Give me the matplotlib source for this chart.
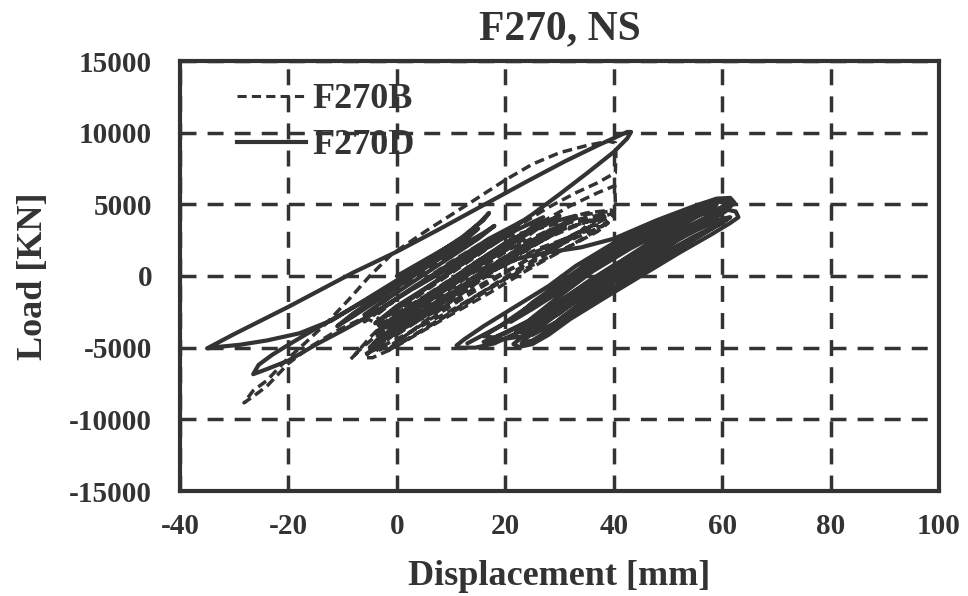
import numpy as np
import matplotlib.pyplot as plt
from matplotlib.lines import Line2D

# =========================
# Data (displacement mm, load kN)
# =========================

f270b_pts = [
    (0, 0), (6, 1200), (12, 2300), (9, 1300), (3, -200), (-3, -2000), (-6, -3200),
    (-3, -2400), (3, -800), (10, 1000), (17, 2600), (22, 3500), (19, 2500), (12, 700),
    (5, -1100), (-1, -2800), (-5, -4300), (-7.5, -5400), (-8.5, -5800),
    (-7, -5200), (-3, -3900), (2, -2500), (8, -800), (15, 1000), (22, 2600), (29, 3800),
    (35, 4400), (39.5, 4600),
    (40, 4200), (37, 3200), (31, 1900), (24, 400), (17, -1200), (10, -2700), (4, -4000),
    (-1, -5100), (-4.5, -5700), (-6, -5700),
    (-4, -4900), (1, -3400), (7, -1700), (14, 200), (21, 1900), (28, 3200), (34, 4000), (38, 4300),
    (35, 3300), (29, 2000), (22, 400), (15, -1300), (8, -3000), (2, -4400), (-2, -5300),
    (0, -4600), (5, -3200), (11, -1500), (18, 400), (25, 2100), (31, 3300), (36, 3900),
    (33, 2800), (27, 1400), (20, -200), (13, -1900), (6, -3500), (1, -4600),
    (-2, -3600), (-6, -2900), (-11, -3800), (-16, -4950), (-20, -6100), (-24, -7700),
    (-26.5, -8400), (-28.2, -8850),
    (-26.5, -8000), (-24, -7300), (-20.5, -5900), (-17, -4700), (-13, -3300), (-9, -1700),
    (-5, 0), (-1, 1500), (6, 3300), (13.5, 5100), (20, 6700), (25, 7800), (30, 8600),
    (35, 9100), (39, 9400), (40.3, 9300),
    (40.4, 8500), (40.3, 7200), (37, 6500), (33, 5800), (28, 4800), (22, 3400), (16, 1900),
    (10, 400), (4, -1200), (-1, -2600), (-4, -3600),
    (0, -2800), (6, -1200), (12, 300), (19, 2000), (26, 3600), (32, 4900), (37, 5800),
    (40.2, 6300), (40.3, 5200), (40, 4300), (37, 3700), (32, 2800),
    (26, 1600), (19, 0), (12, -1600), (5, -3300), (-1, -4800), (-4, -5300),
    (-1, -4200), (5, -2600), (12, -800), (19, 1100), (26, 2700), (31, 3500),
    (27, 2500), (20, 900), (13, -900), (6, -2600), (0, -4100),
    (3, -3100), (9, -1500), (16, 400), (23, 2000), (28, 3000),
    (24, 1900), (17, 300), (10, -1300), (4, -2900),
    (-6, -5500), (0, -4400), (10, -2400), (20, -200), (30, 1700), (37, 3100), (39, 3700),
    (36, 3500), (30, 2400), (20, 800), (10, -1300), (0, -3400), (-4, -4400),
    (0, -2600), (10, -300), (20, 1800), (30, 3200), (38, 4100), (40, 4400),
    (37, 4000), (30, 3700), (20, 2700), (10, 700), (0, -1600), (-4, -2800),
    (0, -3900), (8, -2300), (16, -500), (24, 1100), (32, 2500), (38, 3500),
    (34, 3000), (26, 1900), (18, 400), (10, -1200), (2, -3100), (-3, -4700), (-5, -5200),
    (-2, -4300), (6, -2100), (14, -100), (22, 1800), (29, 3400), (35, 4300), (39, 4500),
    (35, 3800), (28, 2700), (21, 1300), (14, -300), (7, -2000), (1, -3600),
    (6, -1500), (13, 600), (20, 2300), (26, 3300), (22, 2200), (15, 700), (8, -900),
]

f270d_pts = [
    (0, 0), (6, 1300), (12, 2600), (15, 3300), (12, 2300), (5, 500), (-2, -1300),
    (-8, -2800), (-11, -3500), (-8, -2600), (-1, -800), (6, 1000), (12, 2600),
    (15.5, 3800), (17, 4400), (16, 3900), (12, 2700), (6, 1200), (0, -300), (-6, -1700),
    (-12, -3100), (-18, -4000), (-24, -4500), (-29, -4800), (-33, -4950), (-35, -5050),
    (-33.5, -4750), (-30, -4050), (-25, -3100), (-20, -2150), (-14, -950), (-8, 250),
    (0, 1700), (8, 3300), (16, 4950), (24, 6600), (31, 8000), (37, 9100), (40.5, 9700),
    (42.5, 10050), (43.2, 10050),
    (42.5, 9600), (40, 8650), (35, 7150), (30, 5700), (25, 4300), (19.5, 2900), (14, 1550),
    (8, 200), (2, -1100), (-4, -2550), (-10, -3800), (-15, -4800), (-20, -5900),
    (-24, -6500), (-26.5, -6850),
    (-25.5, -6200), (-23, -5500), (-20, -4800), (-16, -3900), (-9, -2400), (-2, -900),
    (5, 600), (11, 1900), (16, 3000), (18, 3500), (15, 2600), (9, 1100), (3, -400),
    (-3, -1900), (-6, -2700),
    (-3, -2300), (3, -800), (10, 900), (17, 2600), (23, 3800), (20, 2800), (13, 1100),
    (6, -700), (0, -2300), (-4, -3300), (0, -2100), (8, -200), (15, 1600), (22, 3200),
    (27, 4100), (24, 3100), (17, 1400), (10, -400), (3, -2200), (0, -3100),
    (-2, -3600), (5, -1900), (12, -100), (19, 1700), (26, 3400), (30, 4200),
    (27, 3700), (20, 2300), (13, 500), (6, -1300), (-1, -3000), (-4, -4000),
    (0, -3000), (7, -1100), (14, 800), (21, 2500), (28, 3700), (33, 4200),
    (29, 3200), (22, 1600), (15, -200), (8, -2000), (2, -3500),
    (-3, -4200), (-5, -5000), (-3, -4300), (2, -2800), (8, -1200), (14, 300), (20, 1000),
    (27, 1600), (34, 2000),
    (40, 2600), (48, 3900), (55, 4900), (59, 5400), (61.5, 5450), (62.3, 5100),
    (60, 4400), (55, 3300), (48, 1900), (40, 300), (33, -1300), (27, -2800), (22, -4000),
    (18, -4700), (14.5, -5000), (11.5, -5000), (11, -4850),
    (12.5, -4400), (16, -3500), (22, -2100), (28, -700), (33, 700), (40, 2300), (48, 3700),
    (55, 4700), (59, 5200), (61, 5100),
    (58, 4200), (52, 2900), (45, 1400), (38, -200), (31, -1900), (26, -3300), (23, -4300),
    (21.5, -4750), (22.5, -4950), (25, -4750), (28, -4100), (32, -3000), (38, -1600),
    (45, 0), (52, 1600), (58, 2900), (61.5, 3700), (63, 4100), (62.5, 4500), (60, 4700),
    (56, 4300), (50, 3300), (43, 1900), (36, 300), (30, -1400), (25, -2900), (22, -3900),
    (24, -3900), (30, -2500), (37, -800), (44, 900), (51, 2500), (57, 3700), (61, 4600),
    (61.8, 5100), (60, 5300), (56, 4900), (50, 3900), (43, 2500), (36, 900), (30, -600),
    (24, -2200), (19, -3500), (16, -4200),
    (18, -4300), (24, -3200), (31, -1600), (38, 0), (45, 1600), (52, 3100), (57, 4100),
    (60, 4600), (58, 4000), (53, 2900), (46, 1300), (39, -300), (32, -2000), (27, -3400),
    (24, -4300), (23, -4700),
    (25, -4500), (31, -3100), (38, -1400), (45, 300), (52, 1900), (58, 3300), (61, 4000),
    (59, 3500), (54, 2400), (47, 800), (40, -800), (33, -2500), (28, -3700),
    (30, -3000), (37, -1000), (44, 700), (51, 2300), (56, 3600), (59, 4300), (56, 3800),
    (50, 2600), (43, 1100), (36, -600), (30, -2200), (26, -3300),
    (28, -2600), (35, -700), (42, 1200), (49, 2900), (55, 4200), (58.5, 4800), (57, 4500),
    (52, 3400), (45, 1800), (38, 200), (31, -1500), (25, -3000), (20, -4000), (16, -4600),
    (25, -4100), (30, -3100), (35, -1700), (40, -450), (45, 600), (50, 1750), (55, 2800),
    (60, 3700), (61.5, 4100), (60, 4000), (55, 3150), (50, 2150), (45, 1100), (40, 100),
    (35, -1200), (30, -2600), (25, -3600), (23, -3700),
    (25, -3000), (30, -1800), (35, -450), (40, 750), (45, 1750), (50, 2750), (55, 3650),
    (60, 4400), (61, 4700), (60, 4800), (55, 4150), (50, 3300), (45, 2400), (40, 1450),
    (35, 300), (30, -1100), (25, -2300), (21, -3200),
    (25, -1850), (30, -500), (35, 850), (40, 2000), (45, 2900), (50, 3750), (55, 4500),
    (59, 5000), (56, 4500), (50, 3500), (45, 2600), (40, 1700), (35, 600), (30, -800),
    (25, -2100), (20, -3300), (15, -4300), (13, -4700),
]

x_ticks = [-40, -20, 0, 20, 40, 60, 80, 100]
y_ticks = [-15000, -10000, -5000, 0, 5000, 10000, 15000]

# =========================
# Plot
# =========================

ink = '#333333'
plt.rcParams['font.family'] = ['Liberation Serif', 'DejaVu Serif']
plt.rcParams['font.weight'] = 'bold'
plt.rcParams['axes.titleweight'] = 'bold'
plt.rcParams['axes.labelweight'] = 'bold'
plt.rcParams['axes.unicode_minus'] = False

fig = plt.figure(figsize=(9.68, 5.96), dpi=100)
ax = fig.add_axes([180 / 968, 1 - 491 / 596, 759 / 968, 430 / 596])

b = np.array(f270b_pts)
d = np.array(f270d_pts)

dash_b = (0, (2.8, 1.5))
ax.plot(b[:, 0], b[:, 1], color=ink, linewidth=2.5,
        linestyle=dash_b, solid_joinstyle='round')
ax.plot(d[:, 0], d[:, 1], color=ink, linewidth=3.0,
        solid_joinstyle='round', solid_capstyle='round')

ax.set_xlim(-40, 100)
ax.set_ylim(-15000, 15000)
ax.set_xticks(x_ticks)
ax.set_yticks(y_ticks)

ax.grid(True, color=ink, linestyle=(0, (4.6, 3.2)), linewidth=2.5)
ax.set_axisbelow(True)

for s in ax.spines.values():
    s.set_linewidth(3)
    s.set_color(ink)

ax.tick_params(direction='in', length=0, labelsize=21, colors=ink)
ax.tick_params(axis='x', pad=16)
ax.tick_params(axis='y', pad=20)

ax.set_xlabel("Displacement [mm]", fontsize=26, color=ink, labelpad=14)
ax.set_ylabel("Load [KN]", fontsize=26, color=ink, labelpad=14)
ax.set_title("F270, NS", fontsize=30, color=ink, pad=16)

handles = [
    Line2D([], [], color=ink, linewidth=2.2, linestyle=(0, (3.0, 1.7))),
    Line2D([], [], color=ink, linewidth=3.0),
]
ax.legend(handles, ["F270B", "F270D"], loc='upper left',
          bbox_to_anchor=(0.075, 0.949), frameon=False, fontsize=26,
          handlelength=1.9, handletextpad=0.2, labelspacing=0.36,
          borderpad=0, borderaxespad=0, labelcolor=ink)

fig.savefig("out.png", dpi=100)
